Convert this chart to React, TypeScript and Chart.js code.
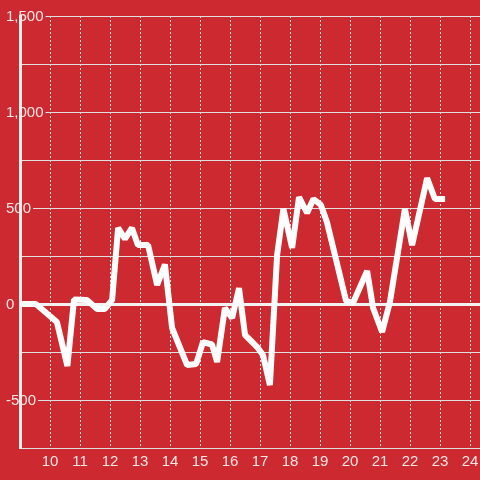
import React, { useEffect, useRef } from 'react';
import { Chart, registerables } from 'chart.js';

Chart.register(...registerables);

// Time of day (hours) for each reading
const timeValues = [
  9.0, 9.53, 10.23, 10.58, 10.8, 11.23, 11.57, 11.83, 12.07, 12.27,
  12.5, 12.73, 12.93, 13.27, 13.57, 13.83, 14.07, 14.57, 14.87, 15.1,
  15.4, 15.57, 15.83, 16.07, 16.3, 16.5, 16.93, 17.1, 17.33, 17.57,
  17.78, 18.07, 18.3, 18.57, 18.78, 19.03, 19.23, 19.87, 20.1, 20.57,
  20.77, 21.07, 21.33, 21.83, 22.07, 22.57, 22.83, 23.17,
];

// Series values
const seriesValues = [
  0, 0, -94, -323, 23, 21, -26, -26, 21, 396,
  339, 396, 307, 307, 99, 206, -125, -318, -313, -198,
  -211, -302, -21, -73, 83, -161, -229, -266, -422, 255,
  495, 292, 557, 474, 547, 516, 427, 16, 5, 172,
  -21, -146, 10, 495, 307, 656, 547, 547,
];

// Tick labels
const xTickLabels = [10, 11, 12, 13, 14, 15, 16, 17, 18, 19, 20, 21, 22, 23, 24];
const yTickLabels = [-500, 0, 500, 1000, 1500];

const BG = '#cc2a30';
const TEXT = 'rgba(255, 240, 240, 0.95)';
const FONT = "'Liberation Sans', Arial, sans-serif";

export default function App() {
  const canvasRef = useRef<HTMLCanvasElement | null>(null);

  useEffect(() => {
    document.body.style.margin = '0';
    const canvas = canvasRef.current;
    if (!canvas) return;
    const chart = new Chart(canvas, {
      type: 'line',
      data: {
        datasets: [
          {
            data: timeValues.map((x, i) => ({ x, y: seriesValues[i] })),
            borderColor: '#ffffff',
            borderWidth: 6,
            borderJoinStyle: 'bevel',
            pointRadius: 0,
            pointHoverRadius: 0,
            tension: 0,
            fill: false,
          },
        ],
      },
      options: {
        responsive: false,
        animation: false,
        devicePixelRatio: 1,
        layout: { padding: { top: 16, right: 0, left: 0, bottom: 0 } },
        plugins: {
          legend: { display: false },
          tooltip: { enabled: false },
          title: { display: false },
        },
        scales: {
          x: {
            type: 'linear',
            position: 'bottom',
            min: 9,
            max: 24.333,
            afterFit: (s: any) => {
              s.height = 32;
              s.paddingLeft = 0;
              s.paddingRight = 0;
            },
            grid: {
              color: (ctx: any) => (ctx.tick && ctx.tick.value === 9 ? 'rgba(0,0,0,0)' : '#e2e2e2'),
              lineWidth: 1,
              drawTicks: false,
              borderDash: [2, 2],
            } as any,
            border: { display: true, color: '#dddddd', width: 1, dash: [2, 2] } as any,
            ticks: {
              stepSize: 1,
              includeBounds: false,
              autoSkip: false,
              maxRotation: 0,
              padding: 5,
              color: TEXT,
              font: { family: FONT, size: 15 },
              callback: (v: any) => (xTickLabels.includes(Number(v)) ? String(v) : ''),
            },
          },
          y: {
            type: 'linear',
            position: 'left',
            min: -750,
            max: 1500,
            afterFit: (s: any) => {
              s.width = 20;
              s.paddingTop = 0;
              s.paddingBottom = 0;
            },
            grid: {
              color: (ctx: any) => (ctx.tick && ctx.tick.value === 0 ? '#f2f2f2' : '#e0e0e0'),
              lineWidth: (ctx: any) => (ctx.tick && ctx.tick.value === 0 ? 3 : 1),
              drawTicks: false,
            },
            border: { display: true, color: '#eeeeee', width: 3 },
            ticks: {
              stepSize: 250,
              includeBounds: false,
              autoSkip: false,
              mirror: true,
              padding: -14,
              labelOffset: 1,
              z: -0.5,
              showLabelBackdrop: true,
              backdropColor: BG,
              backdropPadding: 2,
              color: TEXT,
              font: { family: FONT, size: 15 },
              callback: (v: any) =>
                yTickLabels.includes(Number(v)) ? Number(v).toLocaleString('en-US') : '',
            } as any,
          },
        },
      },
    });
    return () => chart.destroy();
  }, []);

  return (
    <canvas
      ref={canvasRef}
      width={480}
      height={480}
      style={{ position: 'fixed', left: 0, top: 0, width: 480, height: 480, background: BG }}
    />
  );
}
